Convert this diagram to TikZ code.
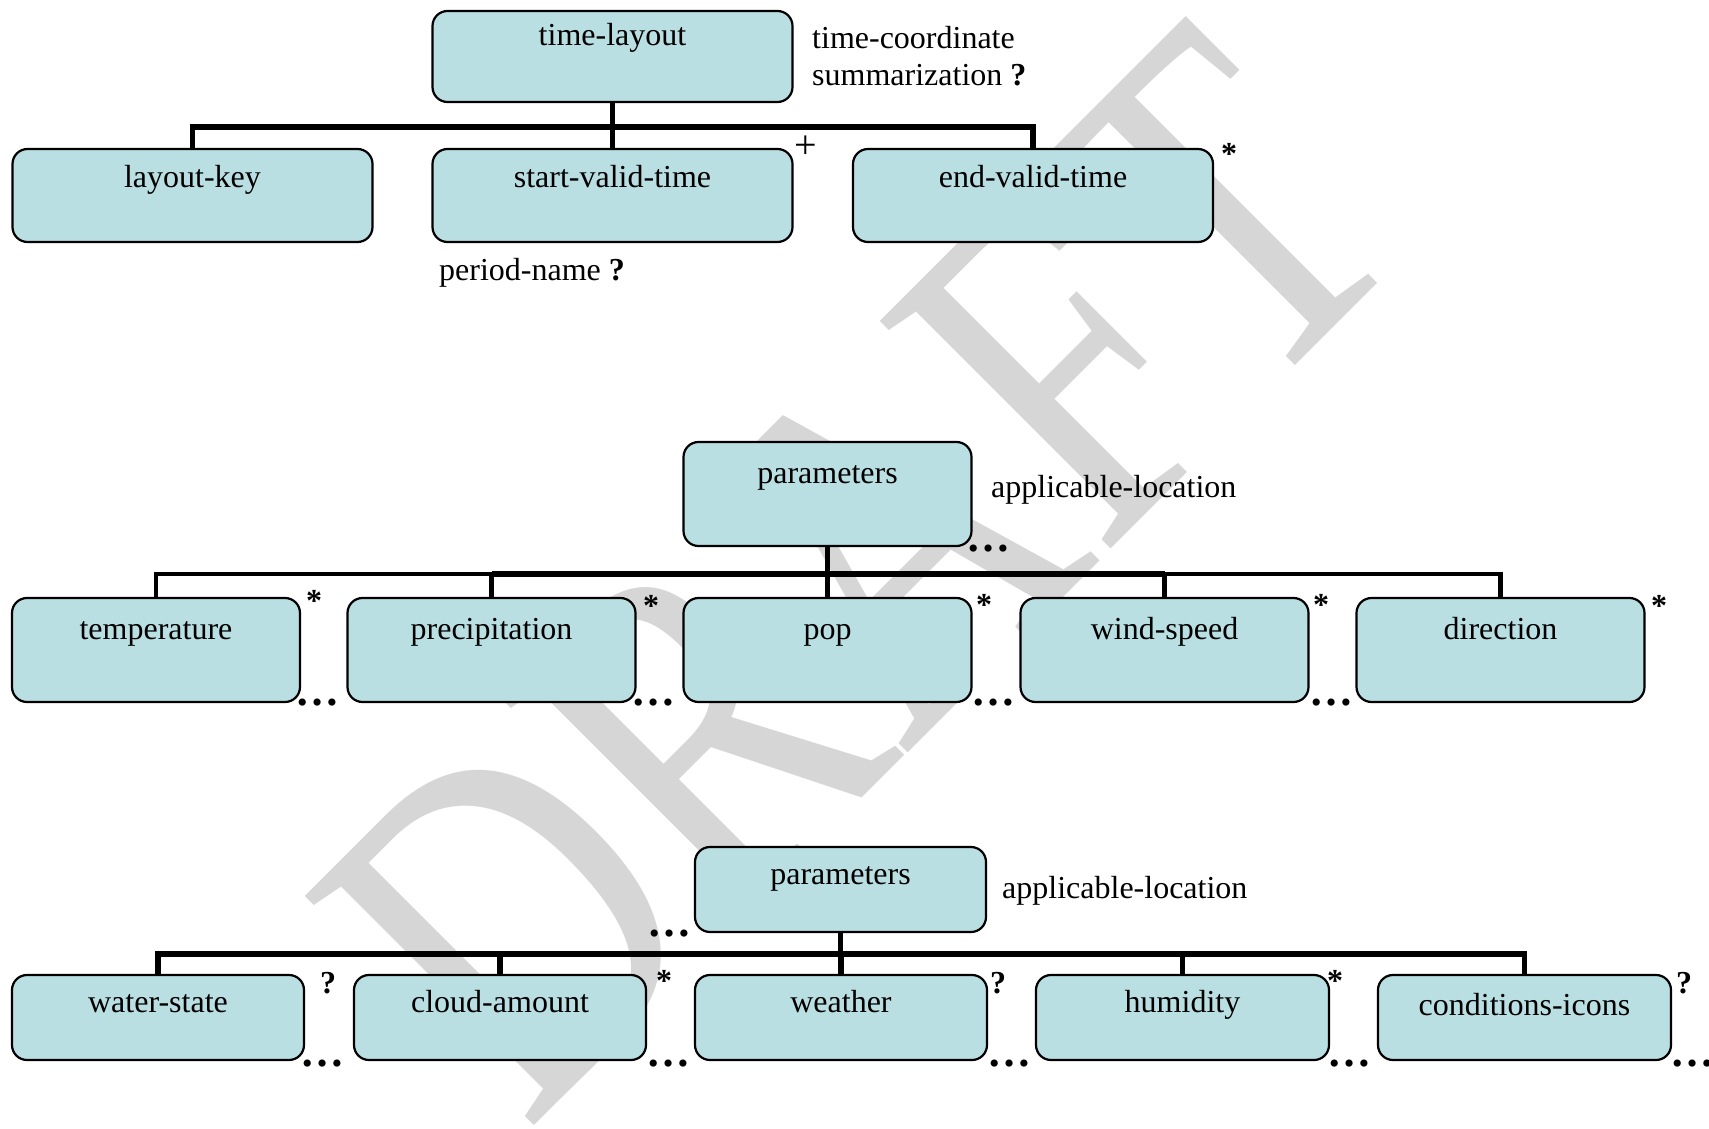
\documentclass[tikz,border=0pt]{standalone}
\usepackage{fontspec}
\setmainfont{Liberation Serif}
\usetikzlibrary{calc}
\definecolor{boxfill}{RGB}{186,223,226}
\definecolor{wmgray}{RGB}{214,214,214}
\begin{document}
\begin{tikzpicture}[x=1pt,y=-1pt,
  box/.style={draw=black, line width=2.2pt, rounded corners=15pt, fill=boxfill,
    inner sep=0pt, align=center, font=\fontsize{32}{38}\selectfont},
  rowa/.style={box, minimum width=360pt, text height=39pt, text depth=54pt},
  rowb/.style={box, minimum width=288pt, text height=41pt, text depth=63pt},
  rowc/.style={box, minimum width=292pt, text height=37pt, text depth=48pt},
  conn/.style={draw=black, line width=5.2pt},
  thinconn/.style={draw=black, line width=4.2pt},
  txt/.style={inner sep=0pt, font=\fontsize{32}{38}\selectfont},
  sym/.style={inner sep=0pt, anchor=base, font=\fontsize{32}{38}\selectfont\bfseries},
  more/.style={inner sep=0pt, anchor=base, font=\fontsize{44}{44}\selectfont\bfseries},
]
\useasboundingbox (0,0) rectangle (1709,1129);
\fill[white] (0,0) rectangle (1709,1129);

% watermark
\begin{scope}
  \clip (0,0) rectangle (1709,1129);
  \begin{scope}[shift={(858,572)}, rotate=45, xscale=0.778]
    \node[transform shape, inner sep=0pt, text=wmgray,
      font=\fontsize{495}{495}\selectfont] (wm) at (0,0) {DRAFT};
  \end{scope}
\end{scope}

% ---------- time layout ----------
\coordinate (busa) at (0,127);
\node[rowa, text height=35pt, text depth=56pt] (tl) at (612.5,56.5) {time-layout};
\node[rowa] (lk)  at (192.5,195.5) {layout-key};
\node[rowa] (svt) at (612.5,195.5) {start-valid-time};
\node[rowa] (evt) at (1033,195.5) {end-valid-time};
\foreach \c in {lk,svt,evt}
  \draw[conn] (tl.south) -- (tl.south |- busa) -| (\c.north);

\node[txt, anchor=base west] (tc) at (812,49) {time-coordinate};
\node[txt, anchor=base west] (sm) at (812,86) {summarization \textbf{?}};
\node[txt, anchor=base, font=\fontsize{40}{40}\selectfont] (plus) at (806,159) {+};
\node[sym] (sa) at (1229,165) {*};
\node[txt, anchor=base west] (pn) at (439,280) {period-name \textbf{?}};

% ---------- parameters, first group ----------
\coordinate (busb) at (0,574);
\node[rowb] (pa) at (827.5,494) {parameters};
\node[rowb] (temp) at (156,650) {temperature};
\node[rowb] (prec) at (491.5,650) {precipitation};
\node[rowb] (pop)  at (827.5,650) {pop};
\node[rowb] (wind) at (1164.5,650) {wind-speed};
\node[rowb] (dir)  at (1500.5,650) {direction};
\foreach \c in {temp,prec,pop,wind,dir}
  \draw[thinconn] (pa.south) -- (pa.south |- busb) -| (\c.north);
\draw[draw=black, line width=6pt] (prec.north |- busb) -- (wind.north |- busb);

\node[txt, anchor=base west] (ala) at (991,497) {applicable-location};
\node[more] (da0) at (988,551) {…};
\node[sym] (s1) at (314,611) {*};
\node[sym] (s2) at (651,616) {*};
\node[sym] (s3) at (984,615) {*};
\node[sym] (s4) at (1321,615) {*};
\node[sym] (s5) at (1659,616) {*};
\node[more] (d1) at (317.5,705) {…};
\node[more] (d2) at (653,705) {…};
\node[more] (d3) at (993.5,705) {…};
\node[more] (d4) at (1331.5,705) {…};

% ---------- parameters, second group ----------
\coordinate (busc) at (0,954);
\node[rowc, minimum width=291pt] (pb) at (840.5,889.5) {parameters};
\node[rowc] (ws)  at (158,1017.5) {water-state};
\node[rowc] (ca)  at (500,1017.5) {cloud-amount};
\node[rowc] (wea) at (841,1017.5) {weather};
\node[rowc, minimum width=293pt] (hum) at (1182.5,1017.5) {humidity};
\node[rowc, minimum width=293pt, text height=40pt, text depth=45pt] (ci) at (1524.5,1017.5) {conditions-icons};
\foreach \c in {ws,ca,wea,hum,ci}
  \draw[conn] (pb.south) -- (pb.south |- busc) -| (\c.north);

\node[txt, anchor=base west] (alb) at (1002,898) {applicable-location};
\node[more] (db0) at (669,936) {…};
\node[sym] (q1) at (328,993) {?};
\node[sym] (t2) at (664,991) {*};
\node[sym] (q3) at (998,993) {?};
\node[sym] (t4) at (1335,991) {*};
\node[sym] (q5) at (1684,993) {?};
\node[more] (e1) at (322,1066) {…};
\node[more] (e2) at (668,1066) {…};
\node[more] (e3) at (1009.5,1066) {…};
\node[more] (e4) at (1349.5,1066) {…};
\node[more] (e5) at (1692,1066) {…};
\end{tikzpicture}
\end{document}
